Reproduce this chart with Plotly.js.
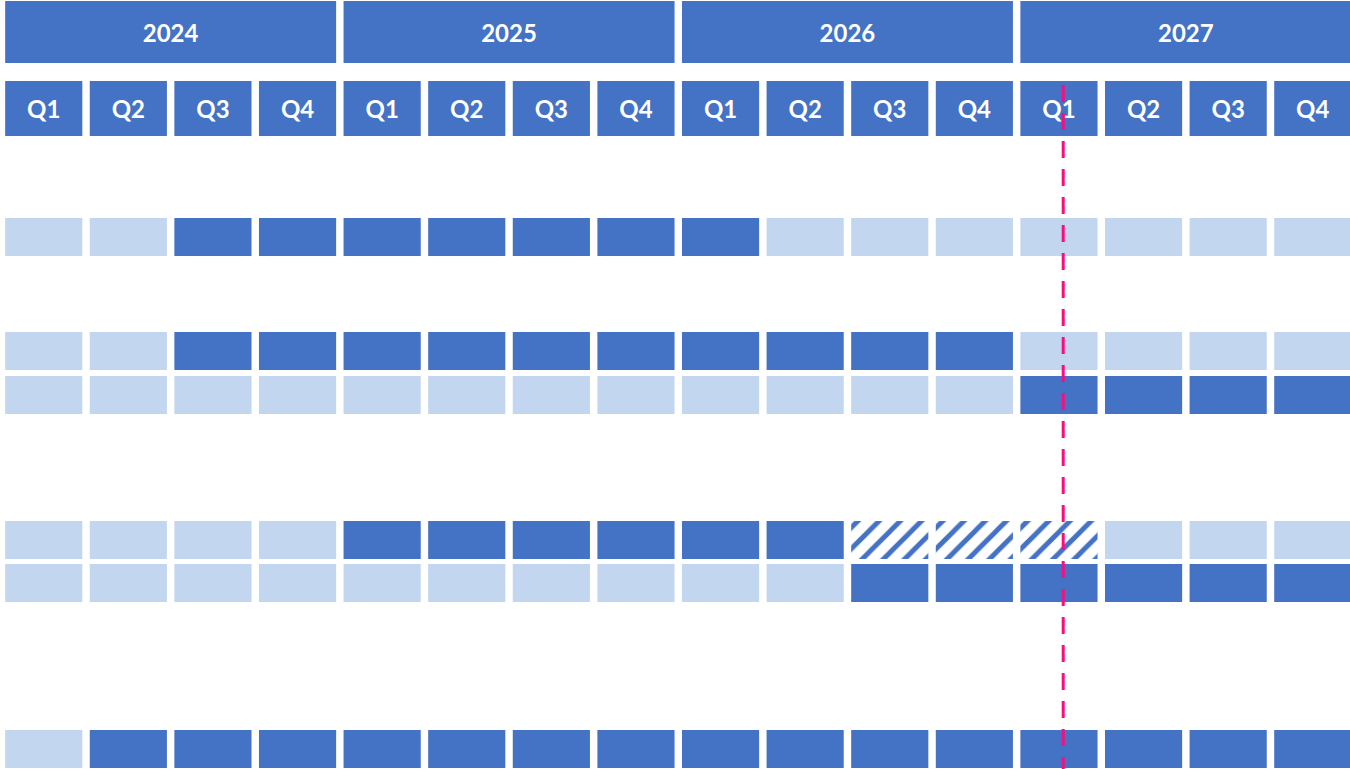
<!DOCTYPE html>
<html>
<head>
<meta charset="utf-8">
<script src="https://cdn.plot.ly/plotly-3.0.1.min.js"></script>
<style>
  html, body { margin: 0; padding: 0; background: #ffffff; }
  #chart { width: 1350px; height: 769px; }
</style>
</head>
<body>
<div id="chart"></div>
<script>
// ---------- DATA ----------
const years = ['2024', '2025', '2026', '2027'];
const quarters = ['Q1', 'Q2', 'Q3', 'Q4'];
// cell states per quarter (16 quarters): 0 = light, 1 = dark, 2 = hatched
const row1 = [0, 0, 1, 1, 1, 1, 1, 1, 1, 0, 0, 0, 0, 0, 0, 0];
const row2 = [0, 0, 1, 1, 1, 1, 1, 1, 1, 1, 1, 1, 0, 0, 0, 0];
const row3 = [0, 0, 0, 0, 0, 0, 0, 0, 0, 0, 0, 0, 1, 1, 1, 1];
const row4 = [0, 0, 0, 0, 1, 1, 1, 1, 1, 1, 2, 2, 2, 0, 0, 0];
const row5 = [0, 0, 0, 0, 0, 0, 0, 0, 0, 0, 1, 1, 1, 1, 1, 1];
const row6 = [0, 1, 1, 1, 1, 1, 1, 1, 1, 1, 1, 1, 1, 1, 1, 1];
const rows = [row1, row2, row3, row4, row5, row6];
const todayMarker = 12.05; // position of "today" in quarter-index units

// ---------- LAYOUT GEOMETRY / STYLE ----------
const geom = {
  rowTops: [218, 332, 376, 521, 564, 730],
  rowH: 38,
  yearTop: 1, yearH: 62, yearTextShift: 4,
  qTop: 81, qH: 55, qTextShift: 3,
  cellW: 0.912,
  lineTop: 85, bottom: 769
};
const DARK = '#4472C4';
const LIGHT = '#C3D6EF';
const PINK = '#FF0A80';
const FONT = 'Lato, "Open Sans", sans-serif';

// ---------- BUILD TRACES ----------
const cells = {0: {x: [], base: [], y: []}, 1: {x: [], base: [], y: []}, 2: {x: [], base: [], y: []}};
rows.forEach((r, ri) => {
  r.forEach((s, qi) => {
    cells[s].x.push(qi);
    cells[s].base.push(geom.rowTops[ri]);
    cells[s].y.push(geom.rowH);
  });
});

const traces = [];
function barTrace(c, marker, width) {
  return {
    type: 'bar', x: c.x, y: c.y, base: c.base, width: width,
    marker: Object.assign({line: {width: 0}}, marker),
    hoverinfo: 'skip', showlegend: false
  };
}

// year header bars
const yearCells = {x: years.map((_, k) => k * 4 + 1.5), base: years.map(() => geom.yearTop), y: years.map(() => geom.yearH)};
traces.push(barTrace(yearCells, {color: DARK}, 4 - (1 - geom.cellW)));
// quarter header bars
const qLabels = [];
const qCells = {x: [], base: [], y: []};
years.forEach((yr, k) => quarters.forEach((q, j) => {
  qCells.x.push(k * 4 + j); qCells.base.push(geom.qTop); qCells.y.push(geom.qH); qLabels.push(q);
}));
traces.push(barTrace(qCells, {color: DARK}, geom.cellW));

// grid cells
traces.push(barTrace(cells[0], {color: LIGHT}, geom.cellW));
traces.push(barTrace(cells[1], {color: DARK}, geom.cellW));
traces.push(barTrace(cells[2], {
  color: '#ffffff',
  pattern: {shape: '/', fgcolor: DARK, bgcolor: '#ffffff', size: 15, solidity: 0.33, fillmode: 'replace'}
}, geom.cellW));

// header texts
traces.push({
  type: 'scatter', mode: 'text',
  x: yearCells.x, y: years.map(() => geom.yearTop + geom.yearH / 2 + geom.yearTextShift),
  text: years, textposition: 'middle center',
  textfont: {family: FONT, size: 24, color: '#ffffff', weight: 'bold'},
  hoverinfo: 'skip', showlegend: false
});
traces.push({
  type: 'scatter', mode: 'text',
  x: qCells.x, y: qCells.x.map(() => geom.qTop + geom.qH / 2 + geom.qTextShift),
  text: qLabels, textposition: 'middle center',
  textfont: {family: FONT, size: 24, color: '#ffffff', weight: 'bold'},
  hoverinfo: 'skip', showlegend: false
});

// today marker line
traces.push({
  type: 'scatter', mode: 'lines',
  x: [todayMarker, todayMarker], y: [geom.lineTop, geom.bottom],
  line: {color: PINK, width: 3, dash: '17px,11px'},
  hoverinfo: 'skip', showlegend: false
});

const layout = {
  width: 1350, height: 769,
  margin: {l: 0, r: 0, t: 0, b: 0, pad: 0},
  paper_bgcolor: '#ffffff', plot_bgcolor: '#ffffff',
  barmode: 'overlay',
  showlegend: false,
  xaxis: {range: [-0.517, 15.44], visible: false, fixedrange: true},
  yaxis: {range: [769, 0], visible: false, fixedrange: true},
  hovermode: false
};

Plotly.newPlot('chart', traces, layout, {displayModeBar: false, staticPlot: true});
</script>
</body>
</html>
